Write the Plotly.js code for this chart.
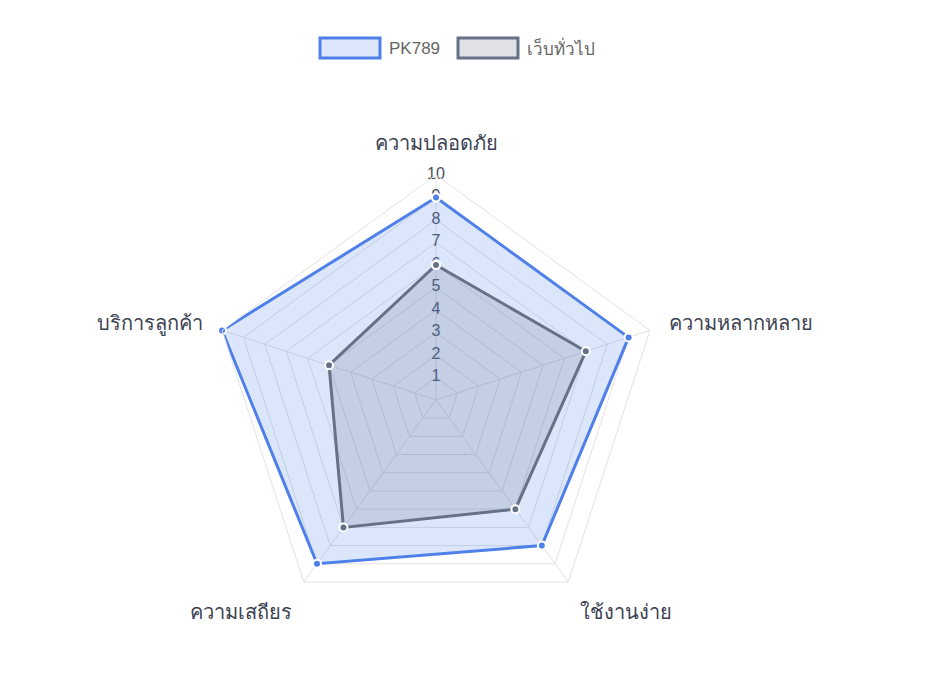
<!DOCTYPE html>
<html>
<head>
<meta charset="utf-8">
<script src="https://cdn.plot.ly/plotly-3.0.1.min.js"></script>
<style>
  html, body { margin: 0; padding: 0; background: #fff; }
  #chart { width: 940px; height: 684px; }
</style>
</head>
<body>
<div id="chart"></div>
<script>
// Kategorien (im Uhrzeigersinn ab oben)
const categories = ['ความปลอดภัย', 'ความหลากหลาย', 'ใช้งานง่าย', 'ความเสถียร', 'บริการลูกค้า'];
const seriesNames = ['PK789', 'เว็บทั่วไป'];
const pk789 = [9, 9, 8, 9, 10];
const generic = [6, 7, 6, 7, 5];
const tickVals = [1, 2, 3, 4, 5, 6, 7, 8, 9, 10];
const tickLabels = ['1', '2', '3', '4', '5', '6', '7', '8', '9', '10'];

const fontFamily = 'Helvetica, Arial, "Liberation Sans", "Noto Sans", sans-serif';
const lineColors = ['#4f80ea', '#657089'];
const fillColors = ['rgba(79, 129, 236, 0.2)', 'rgba(100, 110, 140, 0.2)'];

// Polygone schliessen
const closed = arr => [...arr, arr[0]];

// Skalen-Beschriftung entlang der ersten Achse
const tickTrace = {
  type: 'scatterpolar',
  mode: 'text',
  r: tickVals,
  theta: tickVals.map(() => categories[0]),
  text: tickLabels,
  textposition: 'middle center',
  textfont: { size: 16, color: '#4a5062', family: fontFamily },
  showlegend: false,
  hoverinfo: 'skip'
};

const dataTraces = [pk789, generic].map((vals, i) => ({
  type: 'scatterpolar',
  name: seriesNames[i],
  r: closed(vals),
  theta: closed(categories),
  fill: 'toself',
  fillcolor: fillColors[i],
  mode: 'lines+markers',
  line: { color: lineColors[i], width: 3 },
  marker: { size: 8, color: lineColors[i], line: { color: '#ffffff', width: 2 } },
  showlegend: false,
  hoverinfo: 'r+theta'
}));

// Legende wie im Original: Kasten + Name (Pixelangaben)
const W = 940, H = 684;
const legendBoxX = [320, 458];
const boxW = 60, boxTop = 38, boxBottom = 58;
const legendShapes = seriesNames.map((n, i) => ({
  type: 'rect',
  xref: 'paper', yref: 'paper',
  x0: legendBoxX[i] / W, x1: (legendBoxX[i] + boxW) / W,
  y0: 1 - boxBottom / H, y1: 1 - boxTop / H,
  fillcolor: fillColors[i],
  line: { color: lineColors[i], width: 3 }
}));
const legendLabels = seriesNames.map((n, i) => ({
  xref: 'paper', yref: 'paper',
  x: (legendBoxX[i] + boxW + 7) / W,
  y: 1 - (boxTop + boxBottom) / 2 / H,
  xanchor: 'left', yanchor: 'middle',
  text: n,
  showarrow: false,
  font: { size: 17, color: '#666', family: fontFamily }
}));

const layout = {
  width: W,
  height: H,
  margin: { l: 0, r: 0, t: 0, b: 0 },
  paper_bgcolor: '#ffffff',
  font: { family: fontFamily, color: '#333' },
  showlegend: false,
  shapes: legendShapes,
  annotations: legendLabels,
  polar: {
    domain: { x: [0.2245, 0.7032], y: [0.0863, 0.7442] },
    bgcolor: 'rgba(0,0,0,0)',
    gridshape: 'linear',
    radialaxis: {
      range: [0, 10],
      tickvals: tickVals,
      showticklabels: false,
      ticks: '',
      showline: false,
      gridcolor: '#e2e2e2',
      gridwidth: 1,
      angle: 90
    },
    angularaxis: {
      rotation: 90,
      direction: 'clockwise',
      showline: true,
      linecolor: '#e2e2e2',
      linewidth: 1,
      gridcolor: '#e2e2e2',
      ticks: 'outside',
      ticklen: 16,
      tickcolor: 'rgba(0,0,0,0)',
      tickfont: { size: 20, color: '#3b4252', family: fontFamily }
    }
  }
};

Plotly.newPlot('chart', [tickTrace, ...dataTraces], layout, { displayModeBar: false, responsive: false });
</script>
</body>
</html>
